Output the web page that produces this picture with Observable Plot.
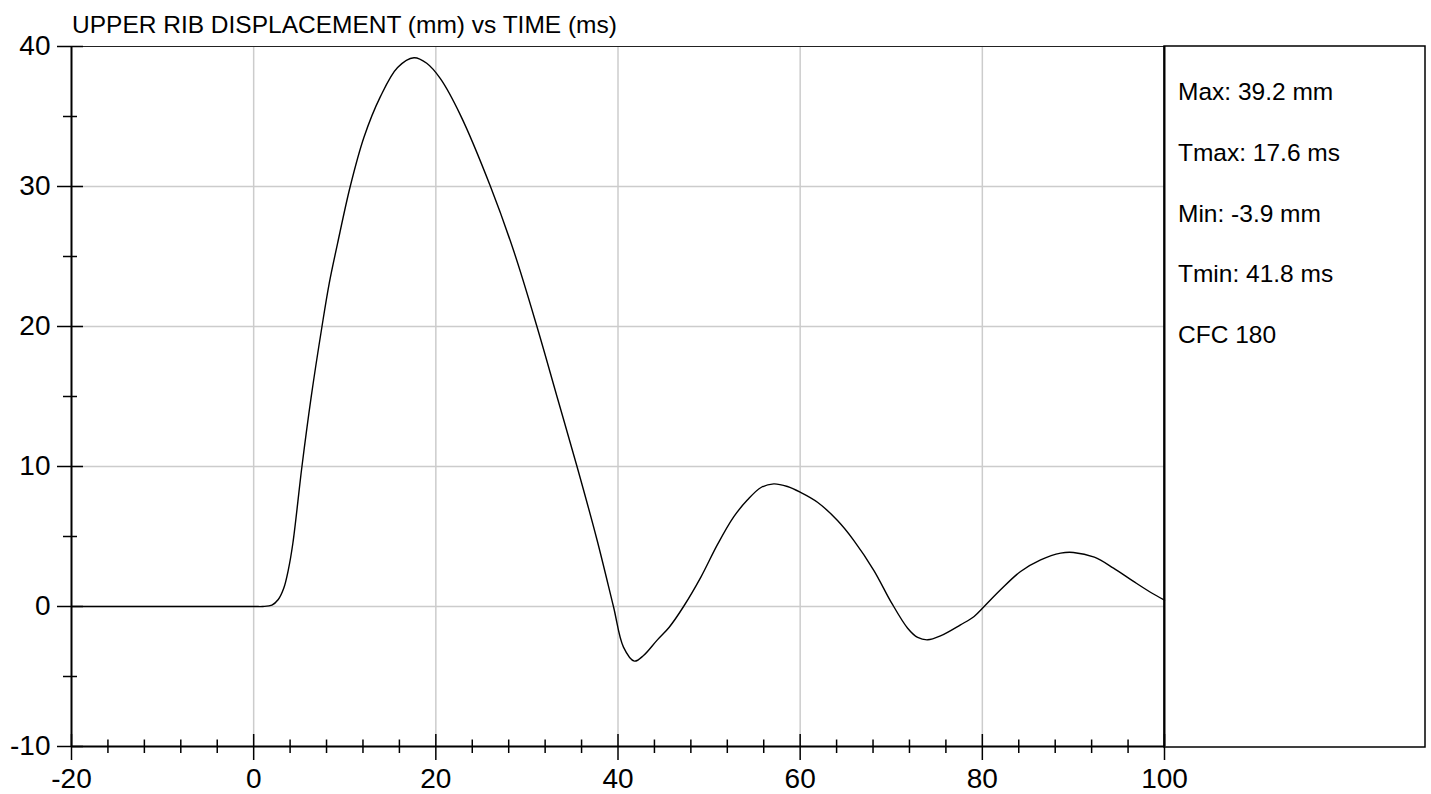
<!DOCTYPE html>
<html>
<head>
<meta charset="utf-8">
<script src="https://cdn.jsdelivr.net/npm/d3@7"></script>
<script src="https://cdn.jsdelivr.net/npm/@observablehq/plot@0.6"></script>
<style>
  html, body { margin: 0; padding: 0; background: #fff; }
  #chart { position: relative; width: 1431px; height: 794px; }
</style>
</head>
<body>
<div id="chart"></div>
<script>
// ---- data ----
const timeMs = [-20, 0, 1.0, 2.0, 2.7, 3.3, 3.8, 4.3, 5.3, 6.3, 7.5, 8.3, 9.2, 10.6, 12.1, 13.9, 15.8, 17.6, 19.0, 20.5, 22.7, 26.0, 28.6, 31.1, 33.3, 35.5, 37.7, 39.5, 40.6, 41.8, 42.8, 44.3, 45.6, 47.2, 49.1, 50.9, 52.7, 54.2, 55.7, 57.1, 58.6, 60.0, 61.9, 64.1, 65.9, 68.1, 70.0, 71.8, 72.9, 74.0, 75.4, 77.6, 79.1, 80.2, 82.0, 84.2, 86.4, 88.6, 90.0, 92.3, 94.4, 96.6, 98.5, 100];
const dispMm = [0, 0, 0.0, 0.1, 0.5, 1.3, 2.6, 4.5, 10.0, 14.9, 20.0, 23.1, 25.9, 30.0, 33.5, 36.4, 38.5, 39.2, 38.8, 37.7, 35.1, 30.0, 25.3, 20.0, 15.0, 10.0, 4.75, 0.0, -2.9, -3.9, -3.5, -2.4, -1.5, 0.0, 2.1, 4.4, 6.4, 7.6, 8.5, 8.76, 8.57, 8.17, 7.45, 6.14, 4.71, 2.57, 0.3, -1.55, -2.21, -2.38, -2.1, -1.31, -0.71, 0.0, 1.19, 2.5, 3.33, 3.81, 3.86, 3.52, 2.74, 1.79, 1.0, 0.45];

const xMajorTicks = [-20, 0, 20, 40, 60, 80, 100];
const xMinorTicks = [-16, -12, -8, -4, 4, 8, 12, 16, 24, 28, 32, 36, 44, 48, 52, 56, 64, 68, 72, 76, 84, 88, 92, 96];
const yMajorTicks = [-10, 0, 10, 20, 30, 40];
const yMinorTicks = [-5, 5, 15, 25, 35];
const xGrid = [0, 20, 40, 60, 80];
const yGrid = [0, 10, 20, 30];

const titleText = "UPPER RIB DISPLACEMENT (mm) vs TIME (ms)";
const statLines = ["Max: 39.2 mm", "Tmax: 17.6 ms", "Min: -3.9 mm", "Tmin: 41.8 ms", "CFC 180"];

const series = timeMs.map((t, i) => ({t, v: dispMm[i]}));

// ---- layout ----
const W = 1431, H = 794;
const mL = 71, mR = 267, mT = 46, mB = 48;
const pw = W - mL - mR, ph = H - mT - mB;
const FONT = "'Liberation Sans', Arial, Helvetica, sans-serif";

const plot = Plot.plot({
  width: W, height: H,
  marginLeft: mL, marginRight: mR, marginTop: mT, marginBottom: mB,
  style: {fontFamily: FONT, fontSize: "28px", background: "#fff", color: "#000"},
  x: {domain: [-20, 100], label: null},
  y: {domain: [-10, 40], label: null},
  marks: [
    Plot.ruleX(xGrid, {stroke: "#cccccc", strokeWidth: 1.5}),
    Plot.ruleY(yGrid, {stroke: "#cccccc", strokeWidth: 1.5}),
    Plot.line(series, {x: "t", y: "v", curve: "catmull-rom", stroke: "#000", strokeWidth: 1.4}),
    Plot.ruleY([40], {stroke: "#222", strokeWidth: 1}),
    Plot.ruleX([100], {stroke: "#000", strokeWidth: 2}),
    Plot.ruleX([-20], {stroke: "#000", strokeWidth: 2}),
    Plot.ruleY([-10], {stroke: "#000", strokeWidth: 2}),
    Plot.tickX(xMajorTicks, {x: d => d, insetTop: ph - 12, insetBottom: -14, stroke: "#000", strokeWidth: 1.5}),
    Plot.tickX(xMinorTicks, {x: d => d, insetTop: ph - 6.5, insetBottom: -7, stroke: "#000", strokeWidth: 1.5}),
    Plot.tickY(yMajorTicks, {y: d => d, insetLeft: -14, insetRight: pw - 12, stroke: "#000", strokeWidth: 1.5}),
    Plot.tickY(yMinorTicks, {y: d => d, insetLeft: -8, insetRight: pw - 6, stroke: "#000", strokeWidth: 1.5}),
    Plot.axisX(xMajorTicks, {tickSize: 0, tickPadding: 22, tickFormat: d => String(d), fontSize: 28, label: null}),
    Plot.axisY(yMajorTicks, {tickSize: 0, tickPadding: 21, tickFormat: d => String(d), fontSize: 28, label: null})
  ]
});

const svg = d3.select(plot);
// title
svg.append("text")
  .attr("x", mL + 1).attr("y", 33)
  .attr("text-anchor", "start")
  .attr("font-family", FONT).attr("font-size", 24.5).attr("fill", "#000")
  .text(titleText);
// stats panel box
svg.append("rect")
  .attr("x", W - mR).attr("y", mT)
  .attr("width", 261).attr("height", ph + 1)
  .attr("fill", "none").attr("stroke", "#000").attr("stroke-width", 1.5);
const statBaselines = [100, 161, 222, 282, 343];
statLines.forEach((s, i) => {
  svg.append("text")
    .attr("x", W - mR + 14).attr("y", statBaselines[i])
    .attr("text-anchor", "start")
    .attr("font-family", FONT).attr("font-size", 24.5).attr("fill", "#000")
    .text(s);
});

document.getElementById("chart").appendChild(plot);
</script>
</body>
</html>
